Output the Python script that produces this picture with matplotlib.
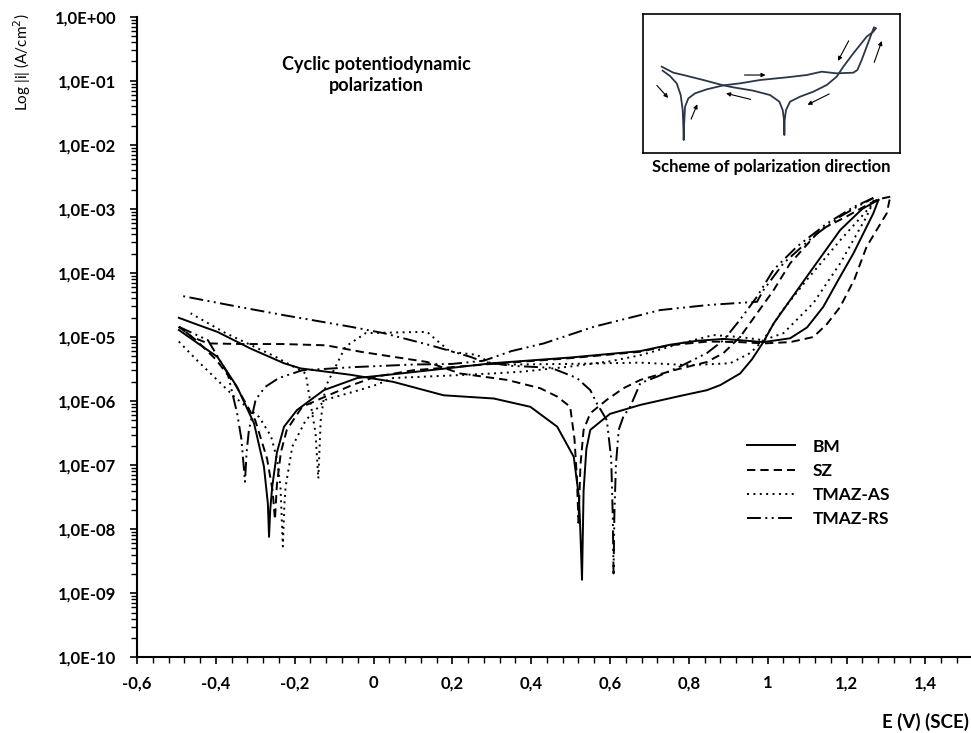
import matplotlib
matplotlib.use("Agg")
import matplotlib.pyplot as plt
import numpy as np
from matplotlib.ticker import FixedLocator, MultipleLocator, LogLocator, NullFormatter

# ---------------- data (E in V vs SCE, log10 of |i| in A/cm2) ----------------
bm_fwd_E = [-0.494, -0.45, -0.396, -0.346, -0.303, -0.278, -0.268, -0.265, -0.262, -0.257, -0.245, -0.227,
            -0.194, -0.126, -0.041, 0.068, 0.2, 0.3, 0.5, 0.677, 0.753, 0.82, 0.888, 0.95, 0.989, 1.057,
            1.1, 1.141, 1.18, 1.218, 1.268, 1.281]
bm_fwd_logi = [-4.89, -5.08, -5.31, -5.78, -6.35, -7.02, -7.6, -8.12, -7.7, -7.34, -6.8, -6.40,
               -6.14, -5.83, -5.64, -5.57, -5.48, -5.41, -5.32, -5.22, -5.12, -5.06, -5.03, -5.06, -5.08, -5.02,
               -4.85, -4.53, -4.1, -3.69, -3.07, -2.86]
bm_rev_E = [1.281, 1.24, 1.184, 1.099, 1.015, 0.989, 0.96, 0.930, 0.88, 0.846, 0.778, 0.677, 0.6, 0.57,
            0.55, 0.54, 0.533, 0.529, 0.524, 0.521, 0.508, 0.466, 0.398, 0.305, 0.178, 0.05, -0.058,
            -0.185, -0.227, -0.312, -0.396, -0.45, -0.494]
bm_rev_logi = [-2.86, -3.0, -3.33, -4.06, -4.79, -5.08, -5.35, -5.57, -5.75, -5.83, -5.92, -6.06, -6.2, -6.35,
               -6.45, -6.75, -7.4, -8.79, -7.9, -7.49, -6.87, -6.40, -6.09, -5.96, -5.91, -5.70, -5.59,
               -5.49, -5.41, -5.18, -4.92, -4.8, -4.70]

sz_fwd_E = [-0.494, -0.45, -0.4, -0.35, -0.3, -0.27, -0.256, -0.25, -0.245, -0.235, -0.22, -0.181, -0.122,
            -0.054, 0.005, 0.1, 0.3, 0.5, 0.677, 0.75, 0.85, 0.93, 0.99, 1.057, 1.116, 1.15, 1.184, 1.22,
            1.251, 1.302, 1.311]
sz_fwd_logi = [-4.84, -5.05, -5.35, -5.75, -6.3, -6.9, -7.4, -7.85, -7.3, -6.8, -6.45, -6.09, -5.93,
               -5.75, -5.62, -5.52, -5.42, -5.33, -5.23, -5.13, -5.07, -5.08, -5.1, -5.08, -5.0, -4.8, -4.53, -4.1,
               -3.59, -3.07, -2.81]
sz_rev_E = [1.311, 1.28, 1.24, 1.2, 1.133, 1.057, 1.015, 0.973, 0.930, 0.888, 0.846, 0.761, 0.677, 0.634,
            0.592, 0.55, 0.533, 0.525, 0.52, 0.516, 0.51, 0.499, 0.466, 0.423, 0.339, 0.22, 0.136, 0.051,
            -0.033, -0.12, -0.23, -0.33, -0.42, -0.46, -0.494]
sz_rev_logi = [-2.81, -2.85, -2.98, -3.12, -3.33, -3.85, -4.27, -4.63, -5.0, -5.25, -5.39, -5.52, -5.67, -5.80,
               -5.98, -6.19, -6.45, -7.0, -7.9, -7.2, -6.6, -6.09, -5.93, -5.80, -5.67, -5.57, -5.39, -5.31,
               -5.23, -5.13, -5.11, -5.11, -5.1, -5.0, -4.84]

as_fwd_E = [-0.494, -0.45, -0.4, -0.35, -0.29, -0.26, -0.245, -0.236, -0.23, -0.226, -0.223, -0.206, -0.172,
            -0.122, -0.037, 0.005, 0.05, 0.2, 0.3, 0.38, 0.5, 0.6, 0.68, 0.78, 0.862, 0.93, 0.989, 1.04,
            1.116, 1.184, 1.251, 1.27]
as_fwd_logi = [-5.07, -5.35, -5.65, -5.95, -6.25, -6.55, -6.9, -7.34, -8.27, -7.6, -7.34, -6.71, -6.30,
               -5.98, -5.83, -5.75, -5.64, -5.6, -5.57, -5.54, -5.46, -5.38, -5.28, -5.1, -4.97, -5.0, -5.05, -4.94,
               -4.47, -3.85, -3.12, -2.86]
as_rev_E = [1.27, 1.26, 1.184, 1.099, 1.032, 0.989, 0.956, 0.905, 0.80, 0.677, 0.5, 0.35, 0.30, 0.263,
            0.195, 0.16, 0.136, 0.05, -0.02, -0.071, -0.122, -0.134, -0.14, -0.147, -0.164, -0.172, -0.248,
            -0.375, -0.464]
as_rev_logi = [-2.86, -2.97, -3.49, -4.11, -4.63, -5.05, -5.25, -5.41, -5.44, -5.40, -5.42, -5.43, -5.42, -5.28,
               -5.23, -5.05, -4.92, -4.93, -4.94, -5.15, -5.78, -6.3, -7.21, -6.5, -5.88, -5.57, -5.31,
               -4.94, -4.63]

rs_fwd_E = [-0.494, -0.42, -0.37, -0.346, -0.335, -0.326, -0.322, -0.316, -0.299, -0.275, -0.24, -0.181,
            -0.05, 0.1, 0.2, 0.28, 0.35, 0.432, 0.559, 0.65, 0.727, 0.85, 0.973, 0.989, 1.04, 1.116, 1.184,
            1.226, 1.268]
rs_fwd_logi = [-4.84, -5.05, -5.57, -6.19, -6.6, -7.26, -6.8, -6.45, -5.98, -5.78, -5.64, -5.52,
               -5.47, -5.43, -5.42, -5.37, -5.22, -5.10, -4.84, -4.7, -4.58, -4.5, -4.45, -4.27, -3.85, -3.43, -3.12,
               -2.97, -2.83]
rs_rev_E = [1.268, 1.218, 1.15, 1.074, 1.015, 0.973, 0.930, 0.888, 0.846, 0.778, 0.719, 0.677, 0.651, 0.634,
            0.622, 0.615, 0.611, 0.609, 0.607, 0.603, 0.592, 0.567, 0.55, 0.516, 0.45, 0.35, 0.28, 0.246,
            0.145, 0.026, -0.058, -0.227, -0.35, -0.494]
rs_rev_logi = [-2.83, -2.97, -3.23, -3.59, -3.95, -4.37, -4.73, -5.05, -5.25, -5.46, -5.62, -5.72, -6.09, -6.24,
               -6.45, -7.0, -7.8, -8.69, -7.8, -6.9, -6.30, -6.04, -5.83, -5.64, -5.48, -5.45, -5.39, -5.31,
               -5.13, -4.94, -4.84, -4.66, -4.52, -4.35]

series_names = ["BM", "SZ", "TMAZ-AS", "TMAZ-RS"]

x_ticks = [-0.6, -0.4, -0.2, 0.0, 0.2, 0.4, 0.6, 0.8, 1.0, 1.2, 1.4]
x_tick_labels = ["-0,6", "-0,4", "-0,2", "0", "0,2", "0,4", "0,6", "0,8", "1", "1,2", "1,4"]
y_ticks = [1e-10, 1e-9, 1e-8, 1e-7, 1e-6, 1e-5, 1e-4, 1e-3, 1e-2, 1e-1, 1e0]
y_tick_labels = ["1,0E-10", "1,0E-09", "1,0E-08", "1,0E-07", "1,0E-06", "1,0E-05",
                 "1,0E-04", "1,0E-03", "1,0E-02", "1,0E-01", "1,0E+00"]

# schematic in the inset (drawing units)
scheme_fwd_x = [128, 150, 170, 182, 188, 190, 191, 192, 195, 205, 225, 260, 310, 360, 420, 500, 560, 605,
                650, 700, 712, 725, 740, 755, 762, 767]
scheme_fwd_y = [212, 228, 250, 285, 330, 380, 420, 380, 320, 295, 280, 268, 256, 250, 240, 232, 225, 215,
                220, 218, 210, 180, 140, 100, 82, 85]
scheme_rev_x = [767, 760, 740, 700, 670, 650, 620, 580, 540, 510, 498, 494, 493, 492, 488, 478, 450, 400,
                340, 310, 250, 190, 160, 125]
scheme_rev_y = [85, 95, 110, 160, 200, 230, 255, 275, 290, 305, 330, 360, 405, 360, 330, 305, 285, 272,
                262, 256, 240, 225, 218, 200]
scheme_arrows = [((105, 250), (150, 300)), ((210, 365), (235, 305)), ((365, 225), (445, 225)),
                 ((690, 115), (650, 190)), ((760, 195), (788, 115)), ((400, 300), (310, 278)),
                 ((635, 278), (555, 318))]

# ---------------- figure ----------------
plt.rcParams['lines.scale_dashes'] = False
FONT = ['Lato', 'DejaVu Sans']
plt.rcParams['font.family'] = FONT

W, H = 971, 733
fig = plt.figure(figsize=(W / 100, H / 100), dpi=100)
ax = fig.add_axes([137 / W, (H - 657.3) / H, (W - 137) / W, (657.3 - 16.7) / H])

styles = {
    "BM": dict(linestyle='-'),
    "SZ": dict(linestyle=(0, (6.0, 3.6))),
    "TMAZ-AS": dict(linestyle=(0, (1.4, 3.2))),
    "TMAZ-RS": dict(linestyle=(0, (10.0, 3.2, 1.4, 3.2, 1.4, 3.2))),
}
curves = {
    "BM": [(bm_fwd_E, bm_fwd_logi), (bm_rev_E, bm_rev_logi)],
    "SZ": [(sz_fwd_E, sz_fwd_logi), (sz_rev_E, sz_rev_logi)],
    "TMAZ-AS": [(as_fwd_E, as_fwd_logi), (as_rev_E, as_rev_logi)],
    "TMAZ-RS": [(rs_fwd_E, rs_fwd_logi), (rs_rev_E, rs_rev_logi)],
}
handles = []
for name in series_names:
    for k, (E, lg) in enumerate(curves[name]):
        ln, = ax.plot(E, 10.0 ** np.asarray(lg), color='black', lw=1.4,
                      label=name if k == 0 else None, **styles[name])
        if k == 0:
            handles.append(ln)

ax.set_yscale('log')
ax.set_xlim(-0.6, (W - 373) / 394.5)
ax.set_ylim(1e-10, 1e0)
ax.spines['top'].set_visible(False)
ax.spines['right'].set_visible(False)
for s in ('left', 'bottom'):
    ax.spines[s].set_linewidth(1.5)

ax.xaxis.set_major_locator(FixedLocator(x_ticks))
ax.set_xticklabels(x_tick_labels, fontweight='bold', fontsize=12)
ax.xaxis.set_minor_locator(MultipleLocator(0.04))
ax.yaxis.set_major_locator(FixedLocator(y_ticks))
ax.set_yticklabels(y_tick_labels, fontweight='bold', fontsize=12)
ax.yaxis.set_minor_locator(LogLocator(base=10, subs=np.arange(2, 10), numticks=100))
ax.yaxis.set_minor_formatter(NullFormatter())
ax.tick_params(axis='both', which='major', direction='out', length=5, width=1.2, color='black')
ax.tick_params(axis='both', which='minor', direction='out', length=4, width=1.0, color='black')
ax.tick_params(axis='y', which='major', pad=10)
ax.tick_params(axis='x', which='major', pad=8)

fig.text(925 / W, 1 - 722 / H, "E (V) (SCE)", ha='center', va='center', fontweight='bold', fontsize=13.5)
fig.text(21.7 / W, 1 - 62 / H, "Log |i| (A/cm$^2$)", ha='center', va='center', rotation=90, fontsize=11)
fig.text(376 / W, 1 - 75 / H, "Cyclic potentiodynamic\npolarization", ha='center', va='center',
         fontweight='bold', fontsize=13, linespacing=1.35)

leg = ax.legend(handles=handles, loc='upper left', bbox_to_anchor=(746.7 / W, 1 - 438.5 / H),
                bbox_transform=fig.transFigure, frameon=False, borderpad=0, borderaxespad=0,
                handlelength=2.8, handletextpad=1.0, labelspacing=0.48,
                prop=dict(family=FONT, weight='bold', size=12.5))

# inset schematic
axi = fig.add_axes([642.7 / W, 1 - 152.7 / H, (900 - 642.7) / W, (152.7 - 14) / H])
axi.set_xlim(68, 840)
axi.set_ylim(458, 42)
axi.set_xticks([])
axi.set_yticks([])
for s in axi.spines.values():
    s.set_linewidth(1.2)
axi.plot(scheme_fwd_x, scheme_fwd_y, color='#2b3648', lw=1.3)
axi.plot(scheme_rev_x, scheme_rev_y, color='#2b3648', lw=1.3)
for (x0, y0), (x1, y1) in scheme_arrows:
    axi.annotate('', xy=(x1, y1), xytext=(x0, y0),
                 arrowprops=dict(arrowstyle='-|>', color='black', lw=0.8, mutation_scale=6))
fig.text(771.7 / W, 1 - 167 / H, "Scheme of polarization direction", ha='center', va='center',
         fontweight='bold', fontsize=12)

fig.savefig("out.png", dpi=100)
